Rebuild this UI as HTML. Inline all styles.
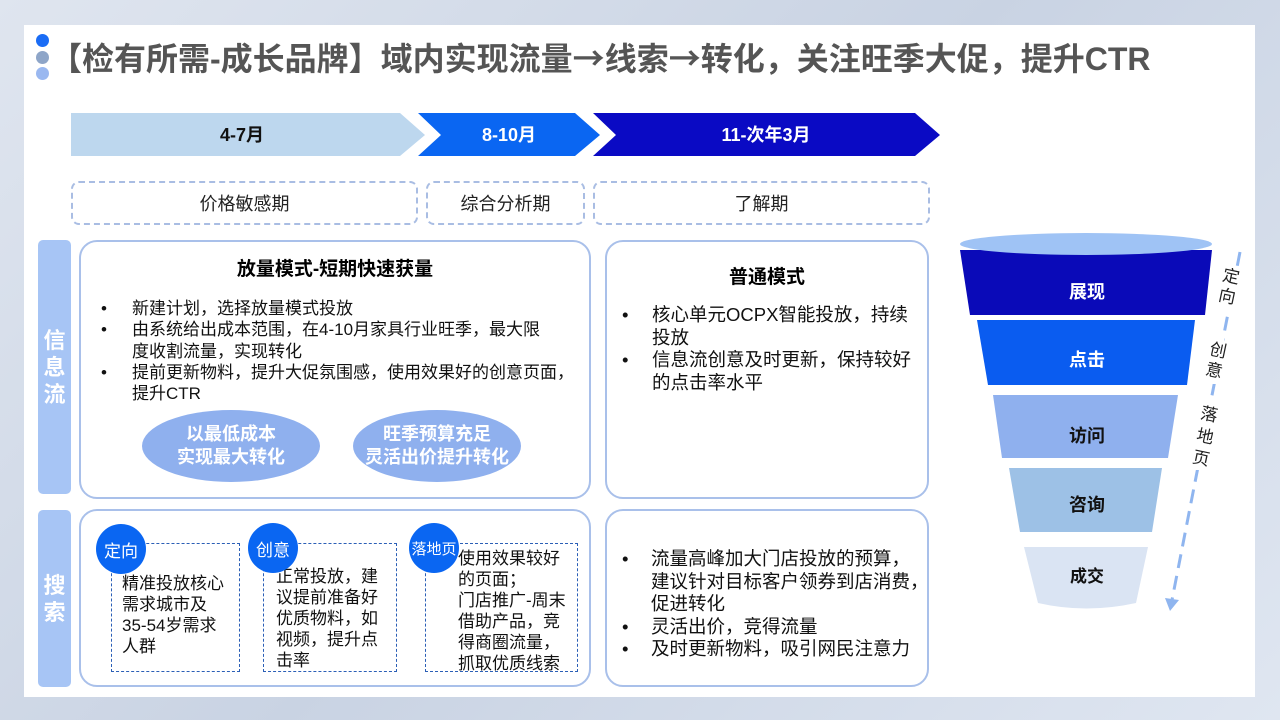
<!DOCTYPE html>
<html><head><meta charset="utf-8"><style>
*{margin:0;padding:0;box-sizing:border-box}
body{width:1280px;height:720px;position:relative;overflow:hidden;background:linear-gradient(135deg,#dfe5ef,#c9d3e3 50%,#dfe6f1);font-family:"Liberation Sans","Noto Sans CJK SC",sans-serif;color:#000}
.a{position:absolute}
.card{left:24px;top:25px;width:1231px;height:672px;background:#fff}
.dot{width:13px;height:13px;border-radius:50%;left:36px}
.title{left:50px;top:34px;font-size:32px;font-weight:bold;color:#555;white-space:nowrap}
.cj{font-family:"Noto Sans CJK SC",sans-serif}
.dbox{border:2px dashed #a9bde3;border-radius:8px;top:181px;height:44px;font-size:18px;color:#222;display:flex;align-items:center;justify-content:center}
.box{border:2px solid #a9c0ea;border-radius:18px}
.side{background:#a7c5f5;border-radius:5px;color:#fff;font-weight:bold;font-size:22px;display:flex;align-items:center;justify-content:center;text-align:center;line-height:27px}
.t15{font-size:17px;line-height:21.3px;color:#111}
.t17{font-size:18.5px;line-height:22.5px;color:#111}
.ell{background:#8fb0ee;border-radius:50%;color:#fff;font-weight:bold;font-size:18px;line-height:23px;display:flex;align-items:center;justify-content:center;text-align:center}
.sb{border:1px dashed #2b5fb6;top:543px;height:129px;font-size:17px;line-height:21px;color:#111;white-space:nowrap}
.circ{width:50px;height:50px;border-radius:50%;background:#0a66f2;color:#fff;font-size:17px;display:flex;align-items:center;justify-content:center}
.fl{fill:#fff;font-weight:bold;font-size:18px;text-anchor:middle}
</style></head><body>
<div class="a card"></div>
<div class="a dot" style="top:34px;background:#1a6cf5"></div>
<div class="a dot" style="top:51px;background:#8ea5c8"></div>
<div class="a dot" style="top:67px;background:#9ab8f0"></div>
<div class="a title">【检有所需-成长品牌】域内实现流量<span class="cj">→</span>线索<span class="cj">→</span>转化，关注旺季大促，提升CTR</div>

<svg class="a" style="left:0;top:0" width="1280" height="720">
<polygon points="71,113 400,113 425,135 400,156 71,156" fill="#bdd7ee"/>
<polygon points="418,113 575,113 600,135 575,156 418,156 441,135" fill="#0a66f2"/>
<polygon points="593,113 915,113 940,135 915,156 593,156 616,135" fill="#0a0ac4"/>
<text x="242" y="141" font-size="18" font-weight="bold" text-anchor="middle" fill="#111">4-7月</text>
<text x="509" y="141" font-size="18" font-weight="bold" text-anchor="middle" fill="#fff">8-10月</text>
<text x="766" y="141" font-size="18" font-weight="bold" text-anchor="middle" fill="#fff">11-次年3月</text>

<polygon points="960,250 1212,250 1205,315 970,315" fill="#0a0ab8"/>
<ellipse cx="1086" cy="244" rx="126" ry="11" fill="#9fc3f5"/>
<polygon points="977,320 1195,320 1187,385 988,385" fill="#0a5cf0"/>
<polygon points="993,395 1178,395 1168,458 1002,458" fill="#8fb0ee"/>
<polygon points="1009,468 1162,468 1152,532 1020,532" fill="#9dc1e6"/>
<path d="M1024,547 L1148,547 L1136,603 Q1086,614 1038,603 Z" fill="#dae4f3"/>
<text x="1087" y="298" class="fl">展现</text>
<text x="1087" y="366" class="fl">点击</text>
<text x="1087" y="442" class="fl" style="fill:#111">访问</text>
<text x="1087" y="511" class="fl" style="fill:#111">咨询</text>
<text x="1087" y="582" class="fl" style="fill:#111;font-size:17px">成交</text>
<line x1="1240" y1="252" x2="1172" y2="600" stroke="#8fb5ef" stroke-width="3" stroke-dasharray="14,8"/>
<polygon points="1165,598 1179,600 1170,611" fill="#8fb5ef"/>
<rect x="1216" y="268" width="22" height="44" fill="#fff"/>
<rect x="1202" y="338" width="22" height="46" fill="#fff"/>
<rect x="1192" y="402" width="24" height="68" fill="#fff"/>
<g font-size="17" fill="#222" text-anchor="middle">
<text transform="translate(1230,282) rotate(12)">定</text>
<text transform="translate(1226,302) rotate(12)">向</text>
<text transform="translate(1217,356) rotate(12)">创</text>
<text transform="translate(1213,376) rotate(12)">意</text>
<text transform="translate(1208,420) rotate(12)">落</text>
<text transform="translate(1204,442) rotate(12)">地</text>
<text transform="translate(1200,464) rotate(12)">页</text>
</g>
</svg>

<div class="a dbox" style="left:71px;width:347px">价格敏感期</div>
<div class="a dbox" style="left:426px;width:159px">综合分析期</div>
<div class="a dbox" style="left:593px;width:337px">了解期</div>

<div class="a side" style="left:38px;top:240px;width:33px;height:254px">信<br>息<br>流</div>
<div class="a side" style="left:38px;top:510px;width:33px;height:177px">搜<br>索</div>

<div class="a box" style="left:79px;top:240px;width:512px;height:259px"></div>
<div class="a box" style="left:605px;top:240px;width:324px;height:259px"></div>
<div class="a box" style="left:79px;top:509px;width:512px;height:178px"></div>
<div class="a box" style="left:605px;top:509px;width:324px;height:178px"></div>

<div class="a" style="left:79px;width:512px;top:254px;text-align:center;font-weight:bold;font-size:19px">放量模式-短期快速获量</div>
<div class="a t15" style="left:101px;top:298px">•<br>•<br><br>•</div>
<div class="a t15" style="left:132px;top:298px;width:455px;white-space:nowrap">新建计划，选择放量模式投放<br>由系统给出成本范围，在4-10月家具行业旺季，最大限<br>度收割流量，实现转化<br>提前更新物料，提升大促氛围感，使用效果好的创意页面，<br>提升CTR</div>
<div class="a ell" style="left:142px;top:410px;width:178px;height:72px">以最低成本<br>实现最大转化</div>
<div class="a ell" style="left:353px;top:410px;width:168px;height:72px">旺季预算充足<br>灵活出价提升转化</div>

<div class="a" style="left:605px;width:324px;top:262px;text-align:center;font-weight:bold;font-size:19px">普通模式</div>
<div class="a t17" style="left:622px;top:304px">•<br><br>•</div>
<div class="a t17" style="left:652px;top:304px;width:275px;white-space:nowrap">核心单元OCPX智能投放，持续<br>投放<br>信息流创意及时更新，保持较好<br>的点击率水平</div>

<div class="a t17" style="left:622px;top:548px">•<br><br><br>•<br>•</div>
<div class="a t17" style="left:651px;top:548px;width:275px;white-space:nowrap">流量高峰加大门店投放的预算，<br>建议针对目标客户领券到店消费，<br>促进转化<br>灵活出价，竞得流量<br>及时更新物料，吸引网民注意力</div>

<div class="a sb" style="left:111px;width:129px;padding:29px 0 0 10px">精准投放核心<br>需求城市及<br>35-54岁需求<br>人群</div>
<div class="a sb" style="left:263px;width:134px;padding:22px 0 0 12px">正常投放，建<br>议提前准备好<br>优质物料，如<br>视频，提升点<br>击率</div>
<div class="a sb" style="left:425px;width:153px;padding:4px 0 0 32px">使用效果较好<br>的页面；<br>门店推广-周末<br>借助产品，竞<br>得商圈流量，<br>抓取优质线索</div>
<div class="a circ" style="left:96px;top:524px">定向</div>
<div class="a circ" style="left:248px;top:523px">创意</div>
<div class="a circ" style="left:409px;top:523px;font-size:15px">落地页</div>
</body></html>
